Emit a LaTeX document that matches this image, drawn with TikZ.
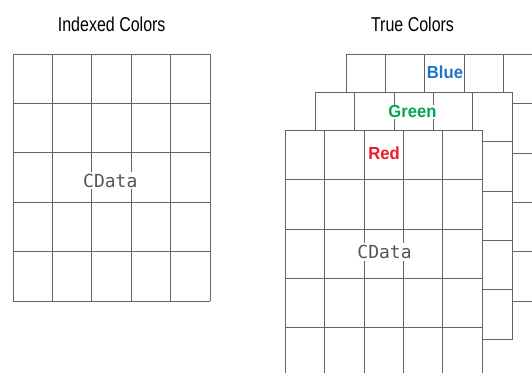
\documentclass[tikz,border=0pt]{standalone}
\usepackage{fontspec}
\setmainfont{Liberation Sans}
\newfontfamily\titlefont[FakeStretch=0.8]{Liberation Sans}
\newfontfamily\labfont[FakeStretch=0.95]{Liberation Sans}
\newfontfamily\cdatafont{DejaVu Sans Mono}
\definecolor{linegray}{RGB}{100,100,100}
\definecolor{bluec}{RGB}{28,118,198}
\definecolor{greenc}{RGB}{0,166,80}
\definecolor{redc}{RGB}{237,28,36}
\definecolor{cdgray}{RGB}{85,85,85}
\newcommand\cgrid[2]{%
  \fill[white] (#1,#2) rectangle ++(197,247);
  \foreach \i in {0,...,5} \draw[gridline] ({#1+\i*39.4},#2) -- ++(0,247);
  \foreach \j in {0,...,5} \draw[gridline] (#1,{#2+\j*49.4}) -- ++(197,0);
}
\begin{document}
\begin{tikzpicture}[x=1pt,y=-1pt,
  gridline/.style={draw=linegray, line width=0.9pt, line cap=rect},
  title/.style={anchor=base, inner sep=0pt, font=\titlefont\fontsize{20}{24}\selectfont, text=black},
  lab/.style={anchor=base, inner sep=1pt, fill=white, font=\labfont\bfseries\fontsize{17.5}{21}\selectfont},
  cdata/.style={anchor=base, inner sep=2pt, fill=white, text=cdgray, font=\cdatafont\fontsize{18}{22}\selectfont}]
\useasboundingbox (0,0) rectangle (532,372);
\begin{scope}
\clip (0,0) rectangle (532,372);
\node[title] (t1) at (111.7,31.7) {Indexed Colors};
\node[title] (t2) at (412.5,31.2) {True Colors};
% indexed grid
\cgrid{13}{54}
\node[cdata] (cd1) at (110.3,187) {CData};
% blue layer
\cgrid{346}{54.3}
\node[lab, text=bluec] (blue) at (445,78.3) {Blue};
% green layer
\cgrid{315.3}{92.3}
\node[lab, text=greenc] (green) at (412.5,117.8) {Green};
% red layer
\cgrid{285.3}{130.3}
\node[lab, text=redc] (red) at (384,159.5) {Red};
\node[cdata] (cd2) at (384.5,258.8) {CData};
\end{scope}
\end{tikzpicture}
\end{document}
